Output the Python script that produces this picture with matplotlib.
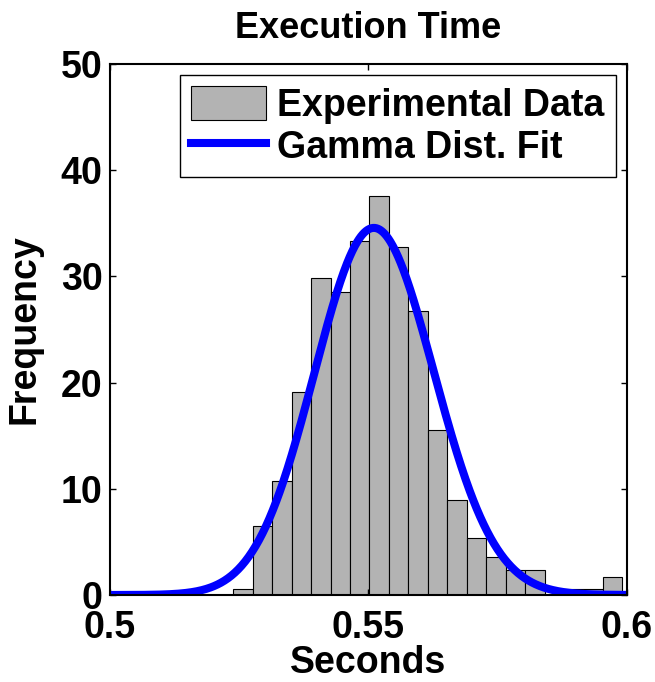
import math

import matplotlib

matplotlib.use("Agg")
import matplotlib.pyplot as plt
import numpy as np

# histogram of run times (density-normalised, 20 bins)
bin_start = 0.52392
bin_width = 0.003759
bin_heights = [
    0.59, 6.53, 10.7, 19.08, 29.8, 28.56, 33.33, 37.54, 32.77, 26.77,
    15.5, 8.9, 5.34, 3.55, 2.35, 2.35, 0.0, 0.56, 0.56, 1.72,
]

# fitted gamma distribution parameters
gamma_shape = 2281.0
gamma_scale = 2.417e-4

x_ticks = [0.5, 0.55, 0.6]
x_tick_labels = ["0.5", "0.55", "0.6"]
y_ticks = [0, 10, 20, 30, 40, 50]


def gamma_pdf(x, k, theta):
    log_pdf = (k - 1) * np.log(x) - x / theta - math.lgamma(k) - k * math.log(theta)
    return np.exp(log_pdf)


plt.rcParams["font.family"] = ["Liberation Sans", "DejaVu Sans"]
plt.rcParams["font.weight"] = "bold"
font_size = 27

fig = plt.figure(figsize=(6.55, 6.82), dpi=100)
ax = fig.add_axes([0.1672, 0.1276, 0.7901, 0.7786])

edges = bin_start + bin_width * np.arange(len(bin_heights))
bars = ax.bar(
    edges,
    bin_heights,
    width=bin_width,
    align="edge",
    color="#b3b3b3",
    edgecolor="black",
    linewidth=0.8,
    label="Experimental Data",
    zorder=1,
)

xs = np.linspace(0.5, 0.6, 600)
(fit_line,) = ax.plot(
    xs,
    gamma_pdf(xs, gamma_shape, gamma_scale),
    color="#0000ff",
    linewidth=5.8,
    label="Gamma Dist. Fit",
    zorder=2,
)

ax.set_xlim(0.5, 0.6)
ax.set_ylim(0, 50)
ax.set_xticks(x_ticks)
ax.set_xticklabels(x_tick_labels)
ax.set_yticks(y_ticks)
ax.tick_params(
    direction="in",
    length=4,
    width=1,
    top=True,
    right=True,
    labelsize=font_size,
)
ax.tick_params(axis="x", pad=11)
ax.tick_params(axis="y", pad=5)
for spine in ax.spines.values():
    spine.set_linewidth(1.5)
    spine.set_zorder(3)

ax.set_title("Execution Time", fontsize=26, fontweight="bold", pad=19)
ax.set_xlabel("Seconds", fontsize=font_size, fontweight="bold", labelpad=-1)
ax.set_ylabel("Frequency", fontsize=font_size, fontweight="bold", labelpad=13)

leg = ax.legend(
    [bars, fit_line],
    ["Experimental Data", "Gamma Dist. Fit"],
    loc="upper right",
    fontsize=font_size,
    frameon=True,
    fancybox=False,
    edgecolor="black",
    framealpha=1,
    borderaxespad=0.3,
    borderpad=0.3,
    handlelength=2.0,
    handleheight=1.0,
    handletextpad=0.3,
    labelspacing=0.12,
)
leg.get_frame().set_linewidth(1.0)

fig.savefig("out.png", dpi=100)
